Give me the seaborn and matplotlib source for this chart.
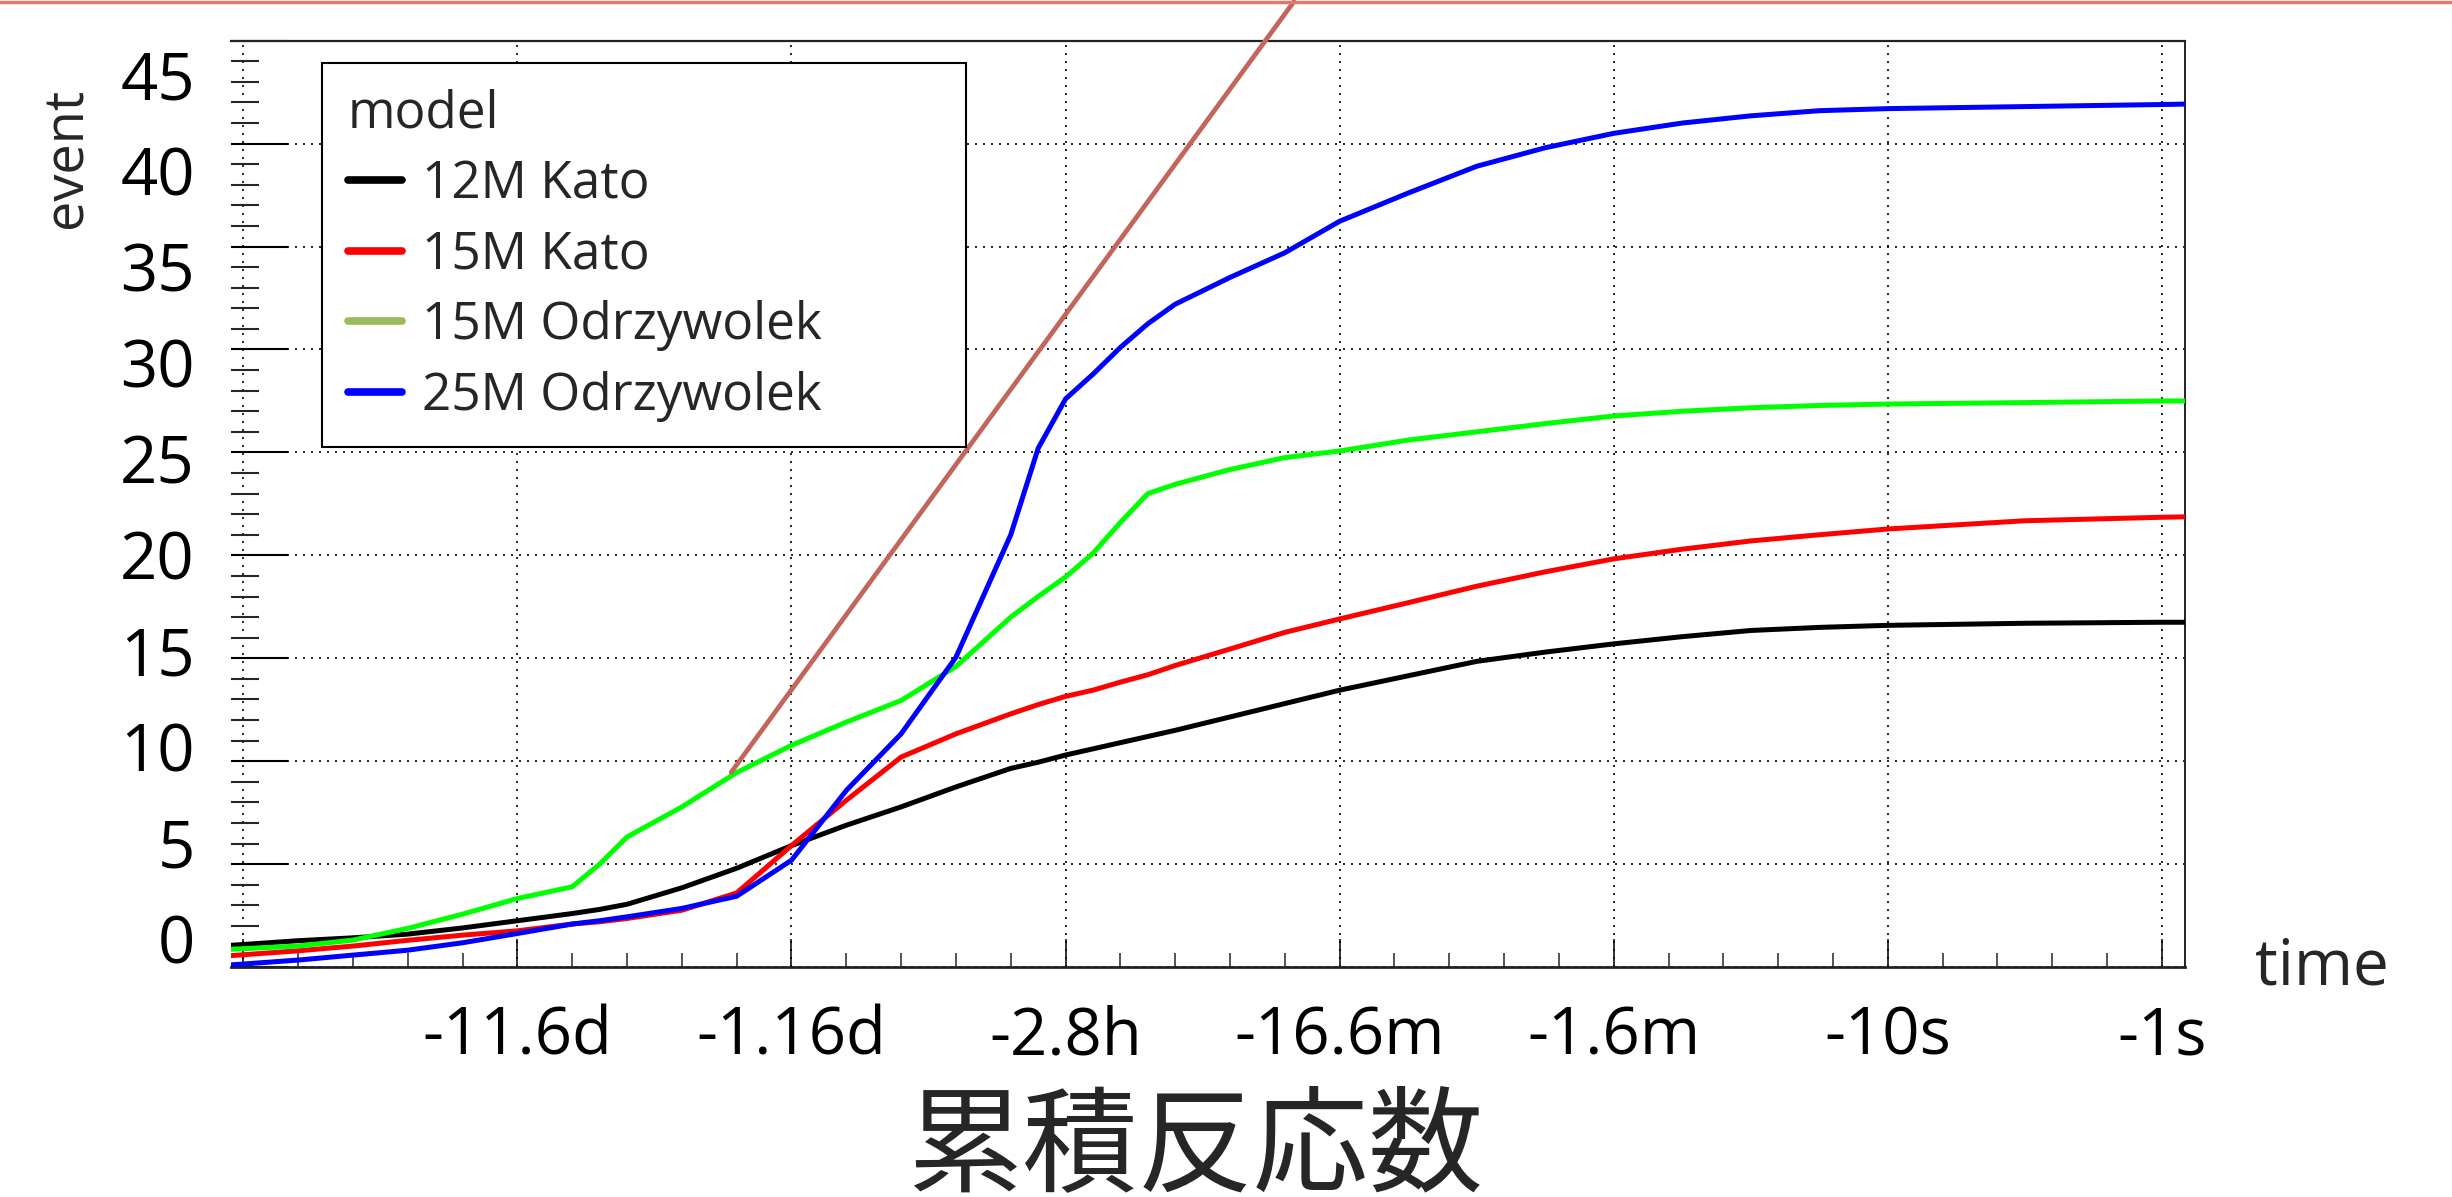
import pandas as pd
import matplotlib.pyplot as plt
import matplotlib.transforms as mtransforms
from matplotlib.lines import Line2D
from matplotlib.ticker import MultipleLocator
import seaborn as sns

# x = -log10(seconds before collapse), so 0 is "-1s"
log_time = [-7.05, -6.8, -6.6, -6.4, -6.2, -6.0, -5.8, -5.7, -5.6, -5.4, -5.2, -5.0,
            -4.8, -4.6, -4.4, -4.2, -4.1, -4.0, -3.9, -3.8, -3.7, -3.6, -3.4, -3.2,
            -3.0, -2.75, -2.5, -2.25, -2.0, -1.75, -1.5, -1.25, -1.0, -0.5, 0.0, 0.084]

# cumulative events per model
kato_12m = [1.05, 1.28, 1.42, 1.6, 1.9, 2.25, 2.6, 2.8, 3.05, 3.85, 4.8, 5.9,
            6.89, 7.78, 8.75, 9.65, 9.95, 10.3, 10.6, 10.9, 11.2, 11.5, 12.15, 12.8,
            13.45, 14.15, 14.85, 15.3, 15.7, 16.05, 16.35, 16.5, 16.6, 16.7, 16.75, 16.75]
kato_15m = [0.55, 0.79, 1.02, 1.3, 1.55, 1.76, 2.09, 2.2, 2.36, 2.76, 3.6, 5.9,
            8.1, 10.2, 11.33, 12.3, 12.75, 13.15, 13.45, 13.84, 14.2, 14.65, 15.45, 16.26,
            16.91, 17.7, 18.5, 19.2, 19.83, 20.3, 20.7, 21.0, 21.28, 21.68, 21.85, 21.87]
odrzywolek_15m = [0.86, 1.02, 1.31, 1.88, 2.57, 3.33, 3.9, 5.0, 6.32, 7.78, 9.45, 10.77,
                  11.9, 12.95, 14.6, 17.0, 18.0, 18.95, 20.1, 21.6, 23.0, 23.45, 24.17, 24.75,
                  25.07, 25.6, 26.0, 26.4, 26.77, 27.0, 27.17, 27.28, 27.35, 27.42, 27.5, 27.5]
odrzywolek_25m = [0.1, 0.34, 0.58, 0.82, 1.18, 1.63, 2.09, 2.25, 2.44, 2.85, 3.44, 5.19,
                  8.58, 11.33, 15.05, 21.0, 25.2, 27.6, 28.8, 30.1, 31.25, 32.2, 33.5, 34.7,
                  36.23, 37.6, 38.9, 39.8, 40.5, 41.0, 41.35, 41.6, 41.7, 41.8, 41.9, 41.92]

models = ['12M Kato', '15M Kato', '15M Odrzywolek', '25M Odrzywolek']
line_colors = ['#000000', '#ff0000', '#00ff00', '#0000ff']
legend_colors = ['#000000', '#ff0000', '#9bbb59', '#0000ff']

x_ticks = [-7, -6, -5, -4, -3, -2, -1, 0]
x_labels = ['', '-11.6d', '-1.16d', '-2.8h', '-16.6m', '-1.6m', '-10s', '-1s']
y_ticks = [0, 5, 10, 15, 20, 25, 30, 35, 40, 45]

# hand-drawn slope line
tangent_x = [-5.22, -3.167]
tangent_y = [9.46, 46.9]

df = pd.DataFrame({
    'time': log_time * 4,
    'event': kato_12m + kato_15m + odrzywolek_15m + odrzywolek_25m,
    'model': [m for m in models for _ in log_time],
})

sns.set_style('white')
plt.rcParams['font.family'] = ['Open Sans', 'Noto Sans CJK JP', 'DejaVu Sans']

fig = plt.figure(figsize=(24.52, 11.97), dpi=100)
ax = fig.add_axes([0.0942, 0.1921, 0.7969, 0.7739])

sns.lineplot(data=df, x='time', y='event', hue='model', hue_order=models,
             palette=line_colors, estimator=None, sort=False, linewidth=3.6,
             legend=False, ax=ax, zorder=3)
ax.plot(tangent_x, tangent_y, color='#c2665c', lw=3.4, clip_on=False, zorder=5)

ax.set_xlim(-7.045, 0.084)
ax.set_ylim(0, 45)

ax.set_xticks(x_ticks, x_labels)
ax.xaxis.set_minor_locator(MultipleLocator(0.2))
ax.set_yticks(y_ticks, [str(v) for v in y_ticks])
ax.yaxis.set_minor_locator(MultipleLocator(1))

ax.tick_params(axis='x', which='major', direction='in', length=20, width=1.1,
               pad=27, labelsize=47, bottom=True, top=False, colors='black')
ax.tick_params(axis='x', which='minor', direction='in', length=10, width=1.1,
               bottom=True, top=False)
ax.tick_params(axis='y', which='major', direction='in', length=41, width=1.5,
               pad=26, labelsize=47, left=True, right=False, colors='black')
ax.tick_params(axis='y', which='minor', direction='in', length=20, width=1.5,
               left=True, right=False)

ax.grid(True, which='major', color='black', lw=1.2, linestyle=(0, (1.2, 3.6)))
ax.set_axisbelow(True)

ax.spines['left'].set_visible(False)
for side, w in [('top', 1.6), ('right', 1.4), ('bottom', 2.0)]:
    ax.spines[side].set_color('#222222')
    ax.spines[side].set_linewidth(w)

ax.set_xlabel('time', fontsize=46, ha='left', va='baseline')
ax.xaxis.set_label_coords(1.036, -0.019)
ax.set_ylabel('event', fontsize=39, va='center')
ax.yaxis.set_label_coords(-0.084, 0.873)

handles = [Line2D([], [], color=c, lw=5.5) for c in legend_colors]
leg = ax.legend(handles, models, title='model', loc='upper left',
                bbox_to_anchor=(0.0466, 0.571, 0.3295, 0.405), mode='expand',
                borderaxespad=0, fontsize=37, title_fontsize=37, alignment='left',
                frameon=True, fancybox=False, framealpha=1, edgecolor='black',
                handlelength=1.05, handletextpad=0.4, labelspacing=0.38, borderpad=0.5)
leg.get_frame().set_linewidth(1.5)

# the y labels in the original drift slightly off their ticks
for lab, v in zip(ax.get_yticklabels(), y_ticks):
    dy = (29 - 1.4 * v) / 100
    lab.set_transform(lab.get_transform() +
                      mtransforms.ScaledTranslation(0, dy, fig.dpi_scale_trans))

fig.add_artist(Line2D([0, 1], [0.9985, 0.9985], transform=fig.transFigure,
                      color='#e0786e', lw=2.5))
fig.text(0.4874, 1 - 1090 / 1197, '累積反応数', ha='center', va='top',
         fontsize=83, family=['Noto Sans CJK JP'])

fig.savefig('out.png', dpi=100)
